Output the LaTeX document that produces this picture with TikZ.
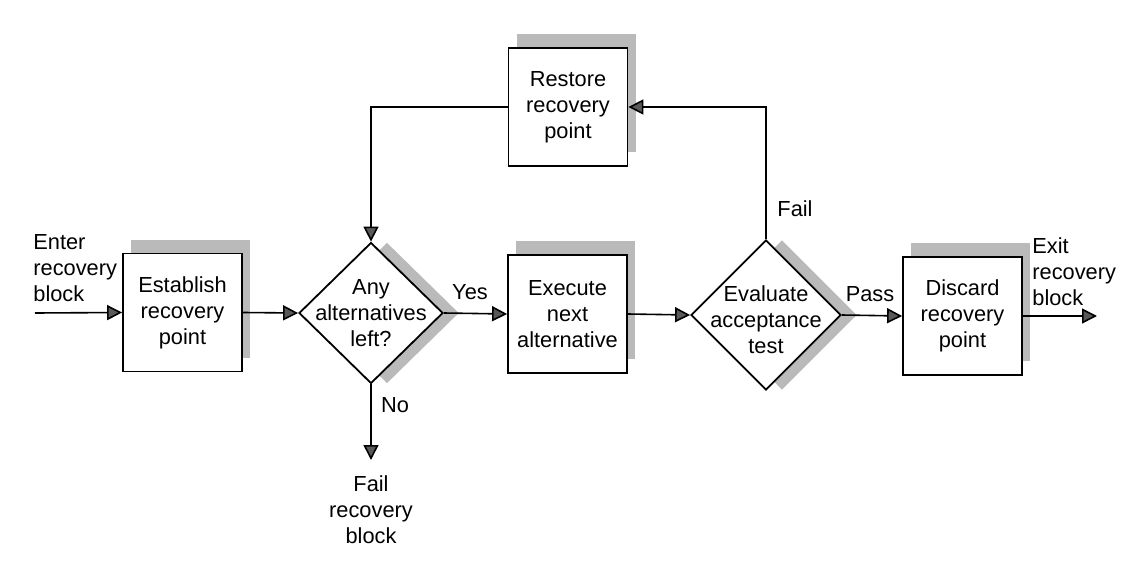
\documentclass[tikz,border=0pt]{standalone}
\usepackage{fontspec}
\setmainfont{Liberation Sans}
\usetikzlibrary{arrows.meta,shapes.geometric,shadows}
\begin{document}
\begin{tikzpicture}[x=0.5pt,y=-0.5pt,
  every node/.style={font=\fontsize{10.9}{13}\selectfont},
  stepbox/.style={draw=black,line width=0.9pt,fill=white,minimum width=59.5pt,minimum height=59pt,inner sep=0pt,align=center,
    general shadow={fill=black!27,shadow xshift=4pt,shadow yshift=7pt}},
  diam/.style={diamond,draw=black,line width=0.9pt,fill=white,inner sep=0pt,
    general shadow={fill=black!27,shadow xshift=8pt,shadow yshift=0pt}},
  lbl/.style={align=center,inner sep=0pt},
  arr/.style={line width=0.8pt,-{Triangle[length=7.5pt,width=7.5pt,fill=black!65]}},
  ln/.style={line width=0.8pt}]
\useasboundingbox (0,0) rectangle (1132,584);

\node[stepbox] (est) at (182.5,312.5) {Establish\\recovery\\point};
\node[diam,minimum width=72pt,minimum height=70.5pt] (any) at (371,313) {};
\node[lbl] (anyt) at (any) {Any\\alternatives\\left?};
\node[stepbox] (exe) at (567.5,314) {Execute\\next\\alternative};
\node[diam,minimum width=75pt,minimum height=75pt] (eva) at (766,315) {};
\node[lbl] (evat) at (766,320) {Evaluate\\acceptance\\test};
\node[stepbox] (dis) at (962.5,316) {Discard\\recovery\\point};
\node[stepbox] (res) at (568,107) {Restore\\recovery\\point};

\coordinate (enter) at (35,313);
\coordinate (exit) at (1097,316);
\coordinate (failend) at (371,460);

\draw[arr] (enter) -- (est.west);
\draw[arr] (est.east) -- (any.west);
\draw[arr] (any.east) -- (exe.west);
\draw[arr] (exe.east) -- (eva.west);
\draw[arr] (eva.east) -- (dis.west);
\draw[arr] (dis.east) -- (exit);
\draw[arr] (any.south) -- (failend);
\draw[arr] (eva.north) |- (res.east);
\draw[arr] (res.west) -| (any.north);

\node[lbl,anchor=west,align=left] (entert) at (33,268) {Enter\\recovery\\block};
\node[lbl,anchor=west,align=left] (exitt) at (1032,272) {Exit\\recovery\\block};
\node[lbl] (failt) at (371,510) {Fail\\recovery\\block};
\node[lbl] (yes) at (470,292) {Yes};
\node[lbl] (no) at (395,405) {No};
\node[lbl] (pass) at (870,294) {Pass};
\node[lbl] (fail) at (795,209) {Fail};
\end{tikzpicture}
\end{document}
